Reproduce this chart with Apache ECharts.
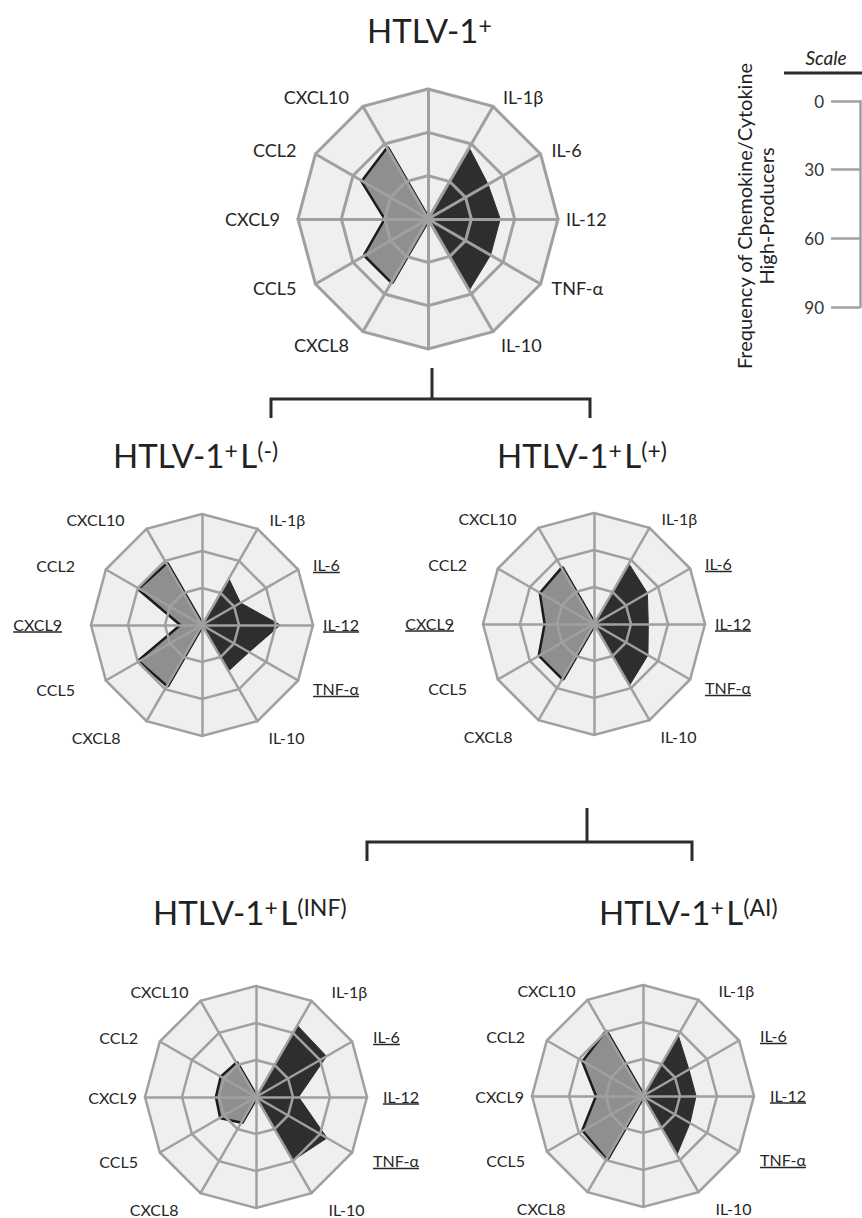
<!DOCTYPE html>
<html><head><meta charset="utf-8">
<script src="https://cdn.jsdelivr.net/npm/echarts@6/dist/echarts.min.js"></script>
<style>html,body{margin:0;padding:0;background:#fff}#c{width:862px;height:1218px}</style>
</head><body><div id="c"></div>
<script>
// spokes, counter-clockwise from the top (top and bottom spokes carry no label)
const axisOrder = ['top','CXCL10','CCL2','CXCL9','CCL5','CXCL8','bottom','IL-10','TNF-α','IL-12','IL-6','IL-1β'];
const cytokines = ['IL-1β','IL-6','IL-12','TNF-α','IL-10'];
const chemokines = ['CXCL10','CCL2','CXCL9','CCL5','CXCL8'];

// frequency (%) of high producers
const cytoHTLV  = [57, 48, 50, 50, 57];
const chemoHTLV = [56, 52, 29, 50, 50];
const cytoLneg  = [43.5, 36, 63.5, 44, 43];
const chemoLneg = [56.5, 58, 16, 58, 56];
const cytoLpos  = [56.5, 50, 44, 50.5, 57.5];
const chemoLpos = [51.5, 49.5, 39, 50.5, 50.5];
const cytoINF   = [67, 66, 34.5, 66.5, 59.5];
const chemoINF  = [31, 32, 31.5, 32.5, 23];
const cytoAI    = [57, 43, 43, 44, 55];
const chemoAI   = [59.5, 55.5, 37, 55.5, 58];

const scaleTicks = [0, 30, 60, 90];
const scaleName = ['Frequency of Chemokine/Cytokine', 'High-Producers'];

const FONT = 'Lato';
const TXT = '#262626';
const GRID = '#a0a0a0';

const panels = [
  {main:'HTLV-1', sup2:'', cyto:cytoHTLV, chemo:chemoHTLV, center:[428,219], r:130, fs:18, lw:3, ul:[], pads:'top', tx:367, tb:42},
  {main:'HTLV-1', sup2:'(-)', cyto:cytoLneg, chemo:chemoLneg, center:[202,625], r:111, fs:16, lw:2.5, ul:['IL-6','IL-12','TNF-α','CXCL9'], pads:'mid', tx:113, tb:467},
  {main:'HTLV-1', sup2:'(+)', cyto:cytoLpos, chemo:chemoLpos, center:[594,624], r:111, fs:16, lw:2.5, ul:['IL-6','IL-12','TNF-α','CXCL9'], pads:'mid', tx:497, tb:467},
  {main:'HTLV-1', sup2:'(INF)', cyto:cytoINF, chemo:chemoINF, center:[256,1097], r:111, fs:16, lw:2.5, ul:['IL-6','IL-12','TNF-α'], pads:'bot', tx:153, tb:924},
  {main:'HTLV-1', sup2:'(AI)', cyto:cytoAI, chemo:chemoAI, center:[643,1096], r:111, fs:16, lw:2.5, ul:['IL-6','IL-12','TNF-α'], pads:'bot', tx:599, tb:924}
];

const mctx = document.createElement('canvas').getContext('2d');
function textW(s, fs){ mctx.font = fs + 'px ' + FONT; return mctx.measureText(s).width; }

function spokeValues(names, vals){
  return axisOrder.map(a => { const k = names.indexOf(a); return k >= 0 ? vals[k] : 0; });
}

// label spacing per spoke index: [top, right, bottom, left] padding
const PADS = {
  top: {1:[0,10,4,0],2:[0,12,0,0],3:[0,10,0,0],4:[0,12,0,0],5:[12,10,0,0],7:[12,0,0,4],8:[0,0,0,4],10:[0,0,0,4],11:[0,0,4,6]},
  mid: {1:[0,18,4,0],2:[0,24,0,0],3:[0,21,0,0],4:[10,24,0,0],5:[18,22,0,0],7:[18,0,0,7],8:[10,0,0,8],9:[0,0,0,2],10:[0,0,0,8],11:[0,0,4,8]},
  bot: {1:[0,8,4,0],2:[0,15,0,0],3:[0,0,0,0],4:[10,15,0,0],5:[18,18,0,0],7:[18,0,0,13],8:[10,0,0,14],9:[0,0,0,8],10:[0,0,0,14],11:[0,0,4,16]}
};
function labelPad(i, set){ return (PADS[set][i] || [0,0,0,0]).slice(); }

const radars = [], series = [];
panels.forEach((p, pi) => {
  const rich = {};
  axisOrder.forEach((name, i) => {
    const isUl = p.ul.includes(name);
    const pad = labelPad(i, p.pads);
    const pt = pad[0];
    if (isUl) pad[0] = 0;
    rich['a' + i] = {fontSize:p.fs, fontFamily:FONT, color:TXT, lineHeight: isUl ? p.fs - 2 : p.fs + 1, padding:pad};
    rich['u' + i] = {width: textW(name, p.fs), height:1.5, lineHeight:2, backgroundColor:TXT, fontSize:1};
    rich['s' + i] = {width: Math.max(pad[1], pad[3], 0.1), height:1, lineHeight:2, fontSize:1};
    rich['v' + i] = {width: 1, height:1, lineHeight: Math.max(pt, 1), fontSize:1};
  });
  const indicator = axisOrder.map(n => ({name:n, min:0, max:90}));
  const base = {center:p.center, radius:p.r, startAngle:90, shape:'polygon', splitNumber:3, indicator:indicator};
  radars.push(Object.assign({}, base, {
    z: 0,
    nameGap: 8,
    axisName: {
      show:true, verticalAlign:'middle', rich:rich,
      formatter: function(name){
        const i = axisOrder.indexOf(name);
        if (name === 'top' || name === 'bottom') return '';
        if (p.ul.includes(name)) {
          const leftSide = i >= 1 && i <= 5;
          const pt = labelPad(i, p.pads)[0];
          return (pt > 0 ? '{v' + i + '| }\n' : '') + '{a' + i + '|' + name + '}\n' +
            (leftSide ? '{u' + i + '| }{s' + i + '| }' : '{s' + i + '| }{u' + i + '| }');
        }
        return '{a' + i + '|' + name + '}';
      }
    },
    splitArea:{show:true, areaStyle:{color:['#efefef']}},
    splitLine:{show:false}, axisLine:{show:false}, axisTick:{show:false}, axisLabel:{show:false}
  }));
  radars.push(Object.assign({}, base, {
    z: 10,
    axisName:{show:false},
    splitArea:{show:false},
    splitLine:{show:true, lineStyle:{color:GRID, width:p.lw}},
    axisLine:{show:true, lineStyle:{color:GRID, width:p.lw}},
    axisTick:{show:false}, axisLabel:{show:false}
  }));
  series.push({
    type:'radar', radarIndex: pi * 2, z:2, symbol:'none', silent:true,
    data:[
      {name:'chemokines', value: spokeValues(chemokines, p.chemo),
       areaStyle:{color:'#8f8f8f', opacity:1}, lineStyle:{color:'#1c1c1c', width:5}},
      {name:'cytokines', value: spokeValues(cytokines, p.cyto),
       areaStyle:{color:'#2e2e2e', opacity:1}, lineStyle:{color:'#2e2e2e', width:1}}
    ]
  });
});

const titleRich = {
  m:{fontSize:33, fontFamily:FONT, fill:'#222'},
  s:{fontSize:23, fontFamily:FONT, fill:'#222', verticalAlign:'top'},
  g:{fontSize:10, fontFamily:FONT, fill:'#222'}
};
const graphics = [];
panels.forEach(p => {
  const txt = '{m|' + p.main + '}{s|+}' + (p.sup2 ? '{g| }{m|L}{s|' + p.sup2 + '}' : '');
  graphics.push({type:'text', x:p.tx, y:p.tb - 12,
    style:{text:txt, rich:titleRich, align:'left', verticalAlign:'middle', fill:'#222', font:'33px ' + FONT}});
});
const bracket = {stroke:'#2b2b2b', lineWidth:3, fill:null};
graphics.push(
  {type:'polyline', shape:{points:[[432,368],[432,399]]}, style:bracket},
  {type:'polyline', shape:{points:[[271,418],[271,399],[590,399],[590,418]]}, style:bracket},
  {type:'polyline', shape:{points:[[587,808],[587,842]]}, style:bracket},
  {type:'polyline', shape:{points:[[367,861],[367,842],[692,842],[692,861]]}, style:bracket},
  {type:'line', shape:{x1:784, y1:73, x2:862, y2:73}, style:{stroke:'#2b2b2b', lineWidth:3}},
  {type:'text', x:826, y:57, style:{text:'Scale', font:'italic 19px ' + FONT, fill:'#222', align:'center', verticalAlign:'middle'}},
  {type:'text', x:744, y:216, rotation:Math.PI/2, style:{text:scaleName[0], font:'20px ' + FONT, fill:'#222', align:'center', verticalAlign:'middle'}},
  {type:'text', x:766, y:216, rotation:Math.PI/2, style:{text:scaleName[1], font:'20px ' + FONT, fill:'#222', align:'center', verticalAlign:'middle'}}
);

const chart = echarts.init(document.getElementById('c'), null, {renderer:'svg'});
chart.setOption({
  animation:false,
  backgroundColor:'#ffffff',
  radar: radars,
  grid:{left:860, width:1, top:101, bottom:911, containLabel:false, outerBoundsMode:'none'},
  xAxis:{type:'value', show:false, min:0, max:1},
  yAxis:{type:'value', position:'left', inverse:true,
    min:scaleTicks[0], max:scaleTicks[scaleTicks.length-1], interval:30,
    axisLine:{show:true, lineStyle:{color:GRID, width:2.5}},
    axisTick:{show:true, inside:false, length:29, lineStyle:{color:GRID, width:2.5}},
    axisLabel:{inside:false, margin:36, fontSize:17, fontFamily:FONT, color:'#333'},
    splitLine:{show:false}},
  graphic: graphics,
  series: series
});
</script></body></html>
